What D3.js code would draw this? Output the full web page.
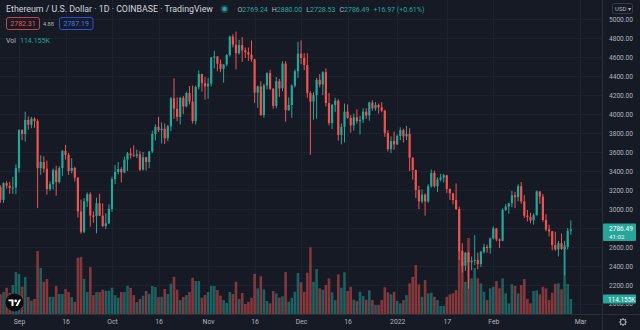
<!DOCTYPE html>
<html><head><meta charset="utf-8">
<script src="https://cdn.jsdelivr.net/npm/d3@7"></script>
<style>
html,body{margin:0;padding:0;background:#161a25;overflow:hidden;}
svg{display:block;font-family:Roboto,"Noto Sans",sans-serif;}
</style></head><body><svg id="c" width="640" height="330"></svg>
<script>
// ---- DATA ----
const dates = d3.utcDay.range(new Date(Date.UTC(2021,7,26)), new Date(Date.UTC(2022,1,27)));
const open = [3228,3096,3272,3245,3222,3225,3430,3830,3790,3937,3888,3950,3925,3430,3495,3425,3210,3262,3408,3285,3430,3612,3570,3400,3432,3330,2975,2760,3080,3155,2930,2925,3060,2930,2820,2850,
3000,3315,3390,3420,3385,3520,3585,3565,3560,3575,3415,3545,3495,3605,3790,3865,3830,3845,3745,3870,4165,4055,3970,4170,4080,4220,4130,3925,4285,4420,4325,
4290,4320,4595,4605,4530,4475,4520,4620,4815,4730,4640,4725,4670,4650,4625,4575,4225,4290,3990,4300,4430,4265,4085,4345,4270,4530,4040,4095,4300,4450,
4635,4590,4515,4220,4130,4200,4360,4310,4440,4115,3905,4095,4140,3780,3865,4025,3960,3880,3965,3925,3940,4025,3985,4120,4060,4095,4070,4035,3800,3630,3715,
3680,3770,3830,3765,3790,3540,3410,3200,3080,3150,3080,3240,3380,3240,3310,3330,3355,3212,3165,3095,3000,2560,2405,2540,2440,2455,2465,2420,2550,2600,2590,
2690,2795,2680,2665,2990,3025,3060,3145,3125,3240,3080,2930,2915,2880,2935,3185,3130,2885,2785,2765,2620,2575,2640,2580,2600,2769.24];
const high = [3250,3280,3293,3285,3335,3470,3840,3840,4025,3975,3970,3965,3945,3565,3555,3510,3290,3425,3455,3450,3620,3675,3590,3535,3445,3335,3100,3115,3175,3175,2975,3120,3160,3060,2955,3050,
3340,3465,3495,3440,3550,3600,3640,3670,3625,3610,3600,3550,3610,3825,3890,3970,3910,3900,3885,4180,4375,4175,4180,4190,4235,4295,4300,4300,4460,4425,4390,
4380,4600,4665,4610,4575,4525,4630,4825,4840,4868,4780,4810,4700,4700,4775,4580,4300,4345,4320,4440,4465,4275,4390,4370,4555,4555,4175,4310,4470,4760,
4775,4640,4640,4240,4230,4380,4420,4450,4480,4220,4105,4170,4155,3900,4110,4100,3990,4005,4050,3980,4060,4060,4130,4145,4125,4110,4125,4045,3830,3765,3815,
3785,3860,3845,3875,3850,3545,3415,3245,3205,3165,3260,3415,3405,3335,3370,3370,3360,3215,3170,3270,3025,2640,2545,2550,2500,2725,2540,2560,2635,2625,2700,
2815,2800,2690,3005,3050,3065,3190,3180,3260,3285,3145,2990,2960,2955,3195,3185,3160,2945,2835,2770,2760,2665,2740,2665,2800,2880];
const low = [3065,3065,3215,3160,3160,3155,3385,3725,3710,3835,3850,3855,3010,3360,3385,3150,3190,3205,3140,3270,3350,3520,3360,3375,3290,2910,2740,2745,3020,2815,2855,2745,2925,2810,2790,2840,
2970,3260,3365,3280,3375,3400,3530,3550,3535,3400,3405,3405,3430,3590,3720,3810,3690,3685,3715,3820,3950,3925,3890,4000,4070,4100,3900,3890,4260,4235,4150,
4160,4290,4480,4450,4440,4330,4500,4605,4700,4470,4625,4550,4590,4560,4550,4115,4065,3980,3960,4260,4250,4055,4060,4180,4240,3920,4035,3960,4280,4380,
4525,4460,4170,3570,3940,3950,4280,4200,4080,3880,3840,4020,3720,3680,3700,3950,3805,3825,3900,3785,3905,3950,3930,4035,4035,4005,4020,3760,3605,3590,3625,
3675,3725,3700,3725,3400,3310,3115,3000,3060,2930,3065,3225,3225,3180,3290,3280,3170,3095,3050,2990,2465,2330,2350,2160,2355,2410,2365,2390,2530,2540,2530,
2680,2660,2590,2660,2980,2950,3020,3010,3080,3055,2905,2870,2850,2835,2930,3055,2865,2765,2710,2565,2560,2500,2570,2300,2575,2728.53];
const close = [3096,3272,3245,3222,3225,3430,3830,3790,3937,3888,3950,3925,3430,3495,3425,3210,3262,3408,3285,3430,3612,3570,3400,3432,3330,2975,2760,3080,3155,2930,2925,3060,2930,2820,2850,3000,
3315,3390,3420,3385,3520,3585,3565,3560,3575,3415,3545,3495,3605,3790,3865,3830,3845,3745,3870,4165,4055,3970,4170,4080,4220,4130,3925,4285,4420,4325,4290,
4320,4595,4605,4530,4475,4520,4620,4815,4730,4640,4725,4670,4650,4625,4575,4225,4290,3990,4300,4430,4265,4085,4345,4270,4530,4040,4095,4300,4450,4635,
4590,4515,4220,4130,4200,4360,4310,4440,4115,3905,4095,4140,3780,3865,4025,3960,3880,3965,3925,3940,4025,3985,4120,4060,4095,4070,4035,3800,3630,3715,3680,
3770,3830,3765,3790,3540,3410,3200,3080,3150,3080,3240,3380,3240,3310,3330,3355,3212,3165,3095,3000,2560,2405,2540,2440,2455,2465,2420,2550,2600,2590,2690,
2795,2680,2665,2990,3025,3060,3145,3125,3240,3080,2930,2915,2880,2935,3185,3130,2885,2785,2765,2620,2575,2640,2580,2600,2769.52,2786.49];
// volume in thousands of ETH
const volume = [150,167,200,160,220,319,304,207,281,129,101,114,479,350,245,266,131,131,213,152,152,190,167,129,93,428,435,268,167,357,144,167,167,185,177,177,
200,144,124,167,167,215,198,144,91,114,139,175,154,213,205,129,131,190,152,230,283,185,106,129,144,167,276,251,251,124,144,
167,215,213,182,139,106,84,167,152,245,114,160,76,93,124,306,195,287,188,99,81,175,157,124,135,319,93,124,169,312,
241,169,314,507,245,342,195,185,220,271,165,106,302,200,317,175,207,109,99,169,137,109,180,106,68,68,106,203,165,150,169,
99,81,106,144,233,283,372,226,131,258,157,162,131,106,61,61,131,150,157,182,486,395,245,578,271,350,271,233,169,106,195,
207,251,195,271,157,81,226,213,157,220,266,114,81,175,180,150,207,195,106,162,230,233,188,524,228,114.155];
const priceTicks = [5000,4800,4600,4400,4200,4000,3800,3600,3400,3200,3000,2800,2600,2400,2200,2000];
const timeTickDates = ["2021-09-01","2021-09-16","2021-10-01","2021-10-16","2021-11-01","2021-11-16","2021-12-01","2021-12-16","2022-01-01","2022-01-17","2022-02-01","2022-03-01"];
const timeTickLabels = ["Sep","16","Oct","16","Nov","16","Dec","16","2022","17","Feb","Mar"];

// ---- CHART ----
const W = 640, H = 330, plotR = 602, plotB = 314;
const UP = "#26a69a", DN = "#ef5350", BG = "#161a25", GRID = "#1d2130", TXT = "#b2b5be";
const svg = d3.select("#c");
svg.append("rect").attr("width", W).attr("height", H).attr("fill", BG);

const x = d3.scaleUtc().domain([new Date(Date.UTC(2021,8,1)), new Date(Date.UTC(2022,2,1))]).range([19, 580.1]);
const y = d3.scaleLinear().domain([2200, 5000]).range([285, 19]);
const yv = d3.scaleLinear().domain([0, 114.155]).range([plotB, 299]);

const data = dates.map((d, i) => ({d, o: open[i], h: high[i], l: low[i], c: close[i], v: volume[i]}));
const tickD = timeTickDates.map(s => new Date(s + "T00:00:00Z"));

svg.append("defs").append("clipPath").attr("id", "plot")
  .append("rect").attr("x", 0).attr("y", 0).attr("width", plotR).attr("height", plotB);

const plot = svg.append("g").attr("clip-path", "url(#plot)");
// grid
plot.append("g").selectAll("line").data(priceTicks).join("line")
  .attr("x1", 0).attr("x2", plotR).attr("y1", d => Math.round(y(d)) + 0.5).attr("y2", d => Math.round(y(d)) + 0.5)
  .attr("stroke", GRID).attr("stroke-width", 1);
plot.append("g").selectAll("line").data(tickD).join("line")
  .attr("y1", 0).attr("y2", plotB).attr("x1", d => Math.round(x(d)) + 0.5).attr("x2", d => Math.round(x(d)) + 0.5)
  .attr("stroke", GRID).attr("stroke-width", 1);

// volume
plot.append("g").selectAll("rect").data(data).join("rect")
  .attr("x", d => x(d.d) - 1.3).attr("width", 2.6)
  .attr("y", d => yv(d.v)).attr("height", d => plotB - yv(d.v))
  .attr("fill", d => d.c >= d.o ? UP : DN).attr("fill-opacity", 0.5);

// candles
const cg = plot.append("g").selectAll("g").data(data).join("g")
  .attr("fill", d => d.c >= d.o ? UP : DN);
cg.append("rect").attr("x", d => x(d.d) - 0.5).attr("width", 1)
  .attr("y", d => y(d.h)).attr("height", d => y(d.l) - y(d.h));
cg.append("rect").attr("x", d => x(d.d) - 1.1).attr("width", 2.2)
  .attr("y", d => y(Math.max(d.o, d.c))).attr("height", d => Math.max(1, Math.abs(y(d.o) - y(d.c))));

// separators
svg.append("line").attr("x1", plotR + 0.5).attr("x2", plotR + 0.5).attr("y1", 0).attr("y2", H).attr("stroke", "#2a2e39");
svg.append("line").attr("x1", 0).attr("x2", W).attr("y1", plotB + 0.5).attr("y2", plotB + 0.5).attr("stroke", "#2a2e39");

// price axis (the 2000.00 label sits mostly under the volume tag, as in the reference)
const pa = svg.append("g").attr("transform", "translate(609,0)")
  .call(d3.axisRight(y).tickValues(priceTicks.filter(p => p > 2000)).tickFormat(d => d.toFixed(2)).tickSize(0).tickPadding(0));
pa.select(".domain").remove();
pa.selectAll("text").attr("fill", TXT).attr("font-size", 6.6).attr("font-family", "Roboto, sans-serif");
svg.append("clipPath").attr("id", "lowlab").append("rect").attr("x", 603).attr("y", 303.5).attr("width", 37).attr("height", 10.5);
svg.append("text").attr("clip-path", "url(#lowlab)").attr("x", 609).attr("y", y(2000) + 2.3)
  .attr("fill", TXT).attr("font-size", 6.6).text((2000).toFixed(2));

// time axis
const ta = svg.append("g").attr("transform", `translate(0,${plotB})`)
  .call(d3.axisBottom(x).tickValues(tickD).tickFormat((d, i) => timeTickLabels[i]).tickSize(0).tickPadding(5));
ta.select(".domain").remove();
ta.selectAll("text").attr("fill", TXT).attr("font-size", 6.8).attr("font-family", "Roboto, sans-serif");

// last price label
const lp = svg.append("g");
lp.append("rect").attr("x", 603).attr("y", 223.5).attr("width", 33).attr("height", 17.5).attr("rx", 1).attr("fill", UP);
lp.append("text").attr("x", 609).attr("y", 231).attr("fill", "#fff").attr("font-size", 6.6).text(close[close.length - 1].toFixed(2));
lp.append("text").attr("x", 609).attr("y", 238.5).attr("fill", "#e8f5f3").attr("font-size", 6.2).text("41:02");
// volume label
svg.append("rect").attr("x", 603).attr("y", 294.5).attr("width", 33).attr("height", 9).attr("rx", 1).attr("fill", UP);
svg.append("text").attr("x", 608).attr("y", 301.5).attr("fill", "#fff").attr("font-size", 6.4).text(d3.format(".3f")(volume[volume.length - 1]) + "K");

// USD button
svg.append("rect").attr("x", 612.5).attr("y", 3.5).attr("width", 20).attr("height", 10).attr("rx", 2)
  .attr("fill", "none").attr("stroke", "#363a45");
svg.append("text").attr("x", 615).attr("y", 10.8).attr("fill", TXT).attr("font-size", 6).text("USD ▾");

// gear icon
const gear = svg.append("g").attr("transform", "translate(623,322)").attr("stroke", TXT).attr("fill", "none");
gear.append("circle").attr("r", 2.6).attr("stroke-width", 0.9);
gear.selectAll("line").data(d3.range(8)).join("line")
  .attr("x1", d => 2.6 * Math.cos(d * Math.PI / 4)).attr("y1", d => 2.6 * Math.sin(d * Math.PI / 4))
  .attr("x2", d => 4 * Math.cos(d * Math.PI / 4)).attr("y2", d => 4 * Math.sin(d * Math.PI / 4))
  .attr("stroke-width", 1.1);

// legend
const last = data[data.length - 1];
const prevClose = close[close.length - 2];
svg.append("text").attr("x", 6).attr("y", 12).attr("fill", "#d1d4dc").attr("font-size", 8.8)
  .text("Ethereum / U.S. Dollar · 1D · COINBASE · TradingView");
svg.append("circle").attr("cx", 224.5).attr("cy", 9).attr("r", 4).attr("fill", UP).attr("fill-opacity", 0.3);
svg.append("circle").attr("cx", 224.5).attr("cy", 9).attr("r", 2.2).attr("fill", UP);
const ohlc = svg.append("text").attr("x", 237.5).attr("y", 11.5).attr("font-size", 7).attr("fill", UP);
const chg = last.c - prevClose;
[["O", last.o], ["H", last.h], ["L", last.l], ["C", last.c]].forEach(([k, v], i) => {
  ohlc.append("tspan").attr("fill", "#b2b5be").attr("dx", i ? 4 : 0).text(k);
  ohlc.append("tspan").text(v.toFixed(2));
});
ohlc.append("tspan").attr("dx", 4).text((chg >= 0 ? "+" : "") + chg.toFixed(2) + " (+" + (chg / prevClose * 100).toFixed(2) + "%)");

// bid/ask boxes
svg.append("rect").attr("x", 6.5).attr("y", 17.5).attr("width", 33).attr("height", 12).attr("rx", 2)
  .attr("fill", "none").attr("stroke", DN).attr("stroke-opacity", 0.8);
svg.append("text").attr("x", 23).attr("y", 26).attr("text-anchor", "middle").attr("fill", DN).attr("font-size", 7).text("2782.31");
svg.append("text").attr("x", 43).attr("y", 25.5).attr("fill", TXT).attr("font-size", 5.6).text("4.88");
svg.append("rect").attr("x", 59.5).attr("y", 17.5).attr("width", 33.5).attr("height", 12).attr("rx", 2)
  .attr("fill", "none").attr("stroke", "#2962ff").attr("stroke-opacity", 0.8);
svg.append("text").attr("x", 76.2).attr("y", 26).attr("text-anchor", "middle").attr("fill", "#3d7cf2").attr("font-size", 7).text("2787.19");

// volume legend
const vl = svg.append("text").attr("x", 6).attr("y", 42.5).attr("font-size", 7);
vl.append("tspan").attr("fill", TXT).text("Vol");
vl.append("tspan").attr("dx", 4).attr("fill", UP).text(d3.format(".3f")(last.v) + "K");

// TradingView logo
const logo = svg.append("g").attr("transform", "translate(14.5,302.5)");
logo.append("circle").attr("r", 9).attr("fill", "#0b0c10");
logo.append("path").attr("fill", "#fff")
  .attr("d", "M-6,-3 H-1 V3.5 H-3 V-1.3 H-6 Z M4.5,-3 H6.6 L3.2,3.5 H1 Z");
logo.append("circle").attr("cx", 1.2).attr("cy", -1.6).attr("r", 1.3).attr("fill", "#fff");
</script></body></html>
